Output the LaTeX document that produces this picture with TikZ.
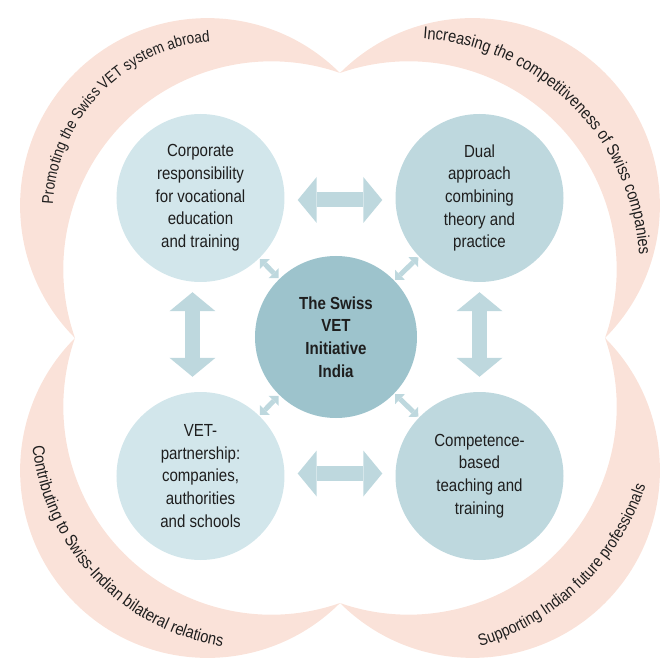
\documentclass[tikz,border=0pt]{standalone}
\usepackage{fontspec}
\setmainfont{Liberation Sans}[FakeStretch=0.86]
\usetikzlibrary{arrows.meta,decorations.text}
\definecolor{bandpink}{RGB}{250,226,217}
\definecolor{paleblue}{RGB}{210,230,235}
\definecolor{midblue}{RGB}{190,216,222}
\definecolor{deepblue}{RGB}{157,195,204}
\definecolor{arrowblue}{RGB}{190,216,222}
\definecolor{inktext}{RGB}{30,30,30}
\tikzset{
 topic/.style={circle,inner sep=0pt,minimum size=168pt,align=center,text=inktext,
  font=\fontsize{17.5}{22.7}\selectfont},
 bigarrow/.style={draw=arrowblue,line width=15pt,
  {Triangle[length=19pt,width=46pt,line width=0pt]}-{Triangle[length=19pt,width=46pt,line width=0pt]}},
 smallarrow/.style={draw=arrowblue,line width=5pt,shorten <=1pt,shorten >=1pt,
  {Triangle[length=7pt,width=14pt,line width=0pt]}-{Triangle[length=7pt,width=14pt,line width=0pt]}},
 bandtext/.style 2 args={decorate,decoration={text along path,text color=inktext,
  text align=center,text={|\fontsize{#1}{20}\selectfont|#2}}}
}
\begin{document}
\begin{tikzpicture}[x=1pt,y=1pt]
 \useasboundingbox (-340,-326) rectangle (319,338);
 % four crescents
 \foreach \a in {45,135,225,315}
  \fill [bandpink] ({\a-45}:265) arc [start angle=\a-90,end angle=\a+90,radius=187.4]
   arc [start angle=\a+64.25,end angle=\a-64.25,radius=208.1] -- cycle;
 \path [bandtext={15.8}{Promoting the Swiss VET system abroad}]
  (-115.3,125.2) ++(200:172) arc [start angle=200,end angle=72,radius=172];
 \path [bandtext={17}{Increasing the competitiveness of Swiss companies}]
  (68.6,68.6) ++(110:231) arc [start angle=110,end angle=-20,radius=231];
 \path [bandtext={17}{Contributing to Swiss-Indian bilateral relations}]
  (-82.3,-84.6) ++(160:226.4) arc [start angle=160,end angle=287,radius=226.4];
 \path [bandtext={16.5}{Supporting Indian future professionals}]
  (68.6,-68.6) ++(254:250) arc [start angle=254,end angle=374,radius=250];
 % circles
 \node [topic,fill=paleblue] (corp) at (-139.5,140)
  {Corporate\\responsibility\\for vocational\\education\\and training};
 \node [topic,fill=midblue] (dual) at (139.5,140)
  {Dual\\approach\\combining\\theory and\\practice};
 \node [topic,fill=paleblue] (vetp) at (-139.5,-138)
  {VET-\\partnership:\\companies,\\authorities\\and schools};
 \node [topic,fill=midblue] (comp) at (139.5,-138)
  {Competence-\\based\\teaching and\\training};
 \node [topic,fill=deepblue,minimum size=162pt,font=\bfseries\fontsize{17.5}{22.7}\selectfont]
  (swiss) at (-4,1) {The Swiss\\VET\\Initiative\\India};
 % arrows
 \draw [bigarrow,shorten <=13pt,shorten >=13pt] ([yshift=-2pt]corp.east) -- ([yshift=-2pt]dual.west);
 \draw [bigarrow,shorten <=13pt,shorten >=13pt] ([yshift=2.5pt]vetp.east) -- ([yshift=2.5pt]comp.west);
 \draw [bigarrow,shorten <=10pt,shorten >=15pt] ([xshift=-8pt]corp.south) -- ([xshift=-8pt]vetp.north);
 \draw [bigarrow,shorten <=10pt,shorten >=15pt] (dual.south) -- (comp.north);
 \foreach \c in {corp,dual,vetp,comp}
  \draw [smallarrow] (\c) -- (swiss);
\end{tikzpicture}
\end{document}
